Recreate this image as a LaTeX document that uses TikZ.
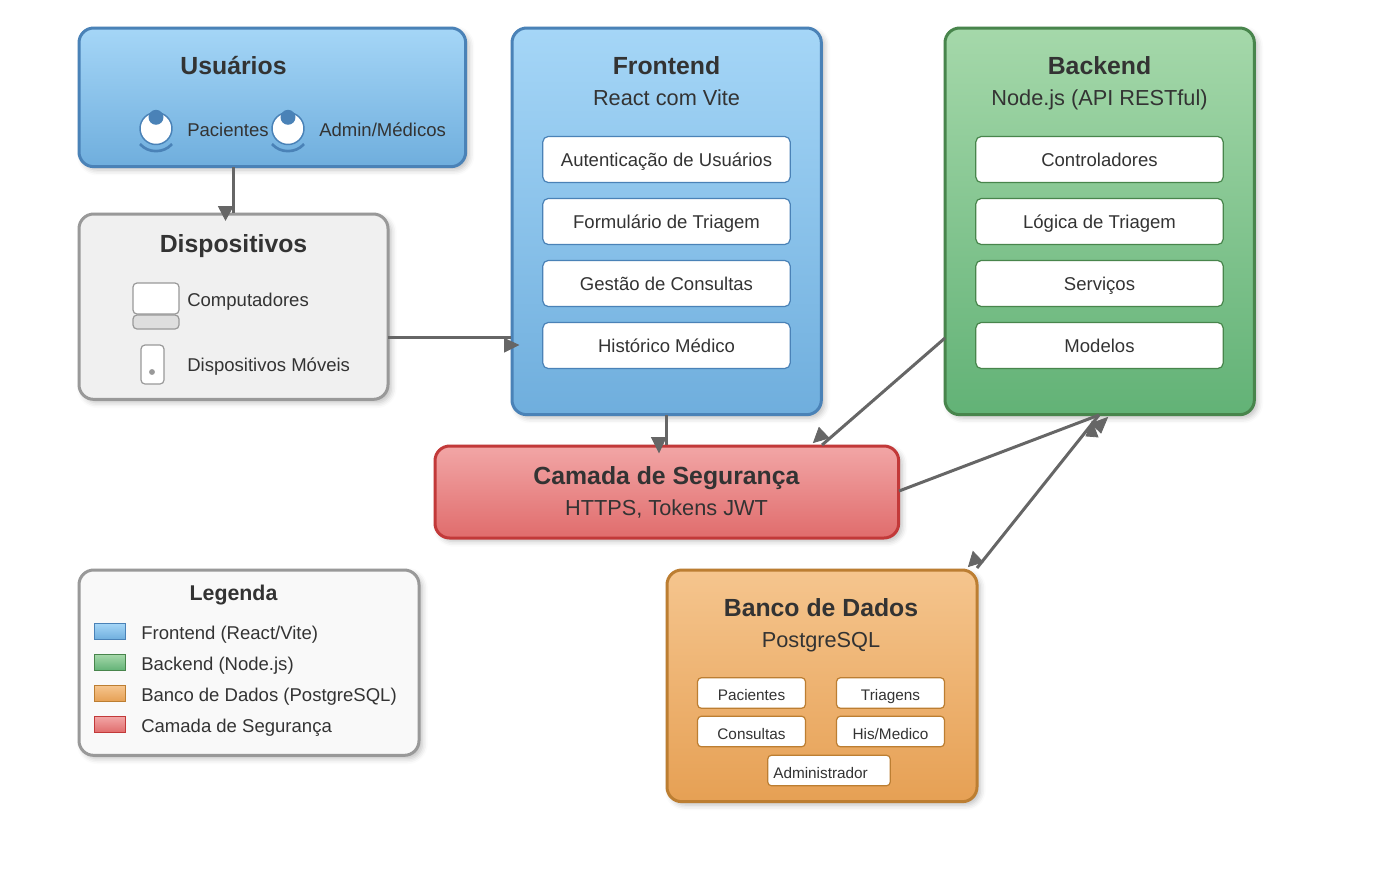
\documentclass[tikz,border=0pt]{standalone}
\usepackage{xcolor}
\usepackage{fontspec}
\setmainfont{Liberation Sans}
\usepackage{tikz}
\usetikzlibrary{arrows.meta,positioning,shadows.blur}
\definecolor{textdark}{RGB}{51,51,51}
\definecolor{linegray}{RGB}{102,102,102}
\definecolor{blueedge}{RGB}{74,130,183}
\definecolor{bluetop}{RGB}{165,214,247}
\definecolor{bluebot}{RGB}{111,174,221}
\definecolor{greenedge}{RGB}{72,133,76}
\definecolor{greentop}{RGB}{165,216,170}
\definecolor{greenbot}{RGB}{98,178,118}
\definecolor{orangeedge}{RGB}{188,126,50}
\definecolor{orangetop}{RGB}{245,197,142}
\definecolor{orangebot}{RGB}{230,160,84}
\definecolor{rededge}{RGB}{194,57,57}
\definecolor{redtop}{RGB}{242,166,166}
\definecolor{redbot}{RGB}{224,108,108}
\definecolor{grayedge}{RGB}{153,153,153}
\definecolor{grayfill}{RGB}{240,240,240}

\begin{document}
\begin{tikzpicture}[
  x=0.75pt, y=-0.75pt,
  panel/.style={rectangle, rounded corners=11pt, line width=2.25pt, anchor=north west, inner sep=0pt, outer sep=0pt,
    blur shadow={shadow xshift=2.5pt, shadow yshift=-2.5pt, shadow blur radius=4pt, shadow opacity=25}},
  bluepanel/.style={panel, draw=blueedge, top color=bluetop, bottom color=bluebot},
  greenpanel/.style={panel, draw=greenedge, top color=greentop, bottom color=greenbot},
  orangepanel/.style={panel, draw=orangeedge, top color=orangetop, bottom color=orangebot},
  redpanel/.style={panel, draw=rededge, top color=redtop, bottom color=redbot},
  graypanel/.style={panel, draw=grayedge, fill=grayfill},
  legendpanel/.style={panel, draw=grayedge, fill=black!2.5},
  boxtitle/.style={font=\fontsize{18.6pt}{20pt}\bfseries\selectfont, text=textdark, anchor=base, inner sep=0pt},
  boxsub/.style={font=\fontsize{16.3pt}{18pt}\selectfont, text=textdark, anchor=base, inner sep=0pt},
  boxlabel/.style={font=\fontsize{13.9pt}{16pt}\selectfont, text=textdark},
  boxsmall/.style={font=\fontsize{11.5pt}{13pt}\selectfont, text=textdark},
  sidelabel/.style={boxlabel, anchor=base west, inner sep=0pt},
  item/.style={rectangle, rounded corners=4pt, fill=white, line width=0.9pt, minimum width=185.5pt,
    minimum height=34.5pt, inner sep=0pt, outer sep=0pt, boxlabel, text height=13.5pt, text depth=3pt},
  dbitem/.style={rectangle, rounded corners=3pt, fill=white, draw=orangeedge, line width=0.9pt, minimum width=81pt,
    minimum height=23pt, inner sep=0pt, outer sep=0pt, boxsmall, text height=14.1pt, text depth=2.5pt},
  swatch/.style={rectangle, line width=1.1pt, minimum width=23.5pt, minimum height=12pt, inner sep=0pt, outer sep=0pt},
  conn/.style={draw=linegray, line width=2.25pt},
  tiphead/.style={fill=linegray, draw=linegray, line width=0.6pt},
  person/.style={circle, draw=blueedge, fill=white, line width=1.1pt, minimum size=24pt, inner sep=0pt, outer sep=0pt}
]
\useasboundingbox (0,0) rectangle (1385,869);

% panels
\node[bluepanel, minimum width=290pt, minimum height=104pt] (usuarios) at (79,28) {};
\node[graypanel, minimum width=231.75pt, minimum height=139pt] (dispositivos) at (79,214) {};
\node[bluepanel, minimum width=232pt, minimum height=290pt] (frontend) at (512,28) {};
\node[greenpanel, minimum width=232pt, minimum height=290pt] (backend) at (945,28) {};
\node[redpanel, minimum width=347.75pt, minimum height=69pt] (seguranca) at (435,446) {};
\node[orangepanel, minimum width=232.5pt, minimum height=173.75pt] (banco) at (667,570) {};
\node[legendpanel, minimum width=255pt, minimum height=139pt] (legenda) at (79,570) {};

% connectors
\coordinate (usuariosout) at (233,167);
\coordinate (dispin) at (233,213);
\coordinate (dispout) at (388,337);
\coordinate (frontin) at (511,337);
\coordinate (frontout) at (666,415);
\coordinate (segin) at (666,445);
\coordinate (backout) at (945,338);
\coordinate (segtop) at (822,445);
\coordinate (segout) at (899,491);
\coordinate (backin) at (1099,415);
\coordinate (bancoout) at (977,568);
\draw[conn] (usuariosout) -- (dispin);
\draw[conn] (dispout) -- (frontin);
\draw[conn] (frontout) -- (segin);
\draw[conn] (backout) -- (segtop);
\draw[conn] (segout) -- (backin);
\draw[conn] (bancoout) -- (backin);
\draw[tiphead] (225.5,220) -- (218.5,206.5) -- (233,206.5) -- cycle;
\draw[tiphead] (518.5,345) -- (504.5,338.5) -- (504.5,352) -- cycle;
\draw[tiphead] (659,452.5) -- (651.5,437.5) -- (666,437.5) -- cycle;
\draw[tiphead] (813.5,442.5) -- (819,427.5) -- (829,438) -- cycle;
\draw[tiphead] (1107.5,417.5) -- (1101,433) -- (1091,423.5) -- cycle;
\draw[tiphead] (1092,421.5) -- (1086,436) -- (1098,437) -- cycle;
\draw[tiphead] (968.5,566.5) -- (973,551.5) -- (983,562) -- cycle;

% usuarios
\node[boxtitle] (usuariostitle) at (233.5,74) {Usuários};
\node[person] (paciente) at (156,128.5) {};
\fill[blueedge] (156,117.3) circle (5.6pt);
\draw[blueedge, line width=2pt] (140,144) .. controls (148,153.5) and (164,153.5) .. (172,144);
\node[sidelabel] (pacientes) at (187,136) {Pacientes};
\node[person] (admin) at (288,128.5) {};
\fill[blueedge] (288,117.3) circle (5.6pt);
\draw[blueedge, line width=2pt] (272,144) .. controls (280,153.5) and (296,153.5) .. (304,144);
\node[sidelabel] (medicos) at (319,136) {Admin/Médicos};

% dispositivos
\node[boxtitle] (disptitle) at (233.5,252) {Dispositivos};
\draw[grayedge, fill=white, rounded corners=3pt, line width=0.9pt] (133,283) rectangle (179,314);
\draw[grayedge, fill=black!13, rounded corners=3pt, line width=0.9pt] (133,315) rectangle (179,329);
\node[sidelabel] (computadores) at (187,306) {Computadores};
\draw[grayedge, fill=white, rounded corners=3pt, line width=0.9pt] (141,345) rectangle (164,384);
\fill[grayedge] (152,372) circle (2.2pt);
\node[sidelabel] (moveis) at (187,371) {Dispositivos Móveis};

% frontend
\node[boxtitle] (fronttitle) at (666.5,74) {Frontend};
\node[boxsub] (frontsub) at (666.5,105) {React com Vite};
\node[item, draw=blueedge] (auth) at (666.5,159.5) {Autenticação de Usuários};
\node[item, draw=blueedge] (form) at (666.5,221.5) {Formulário de Triagem};
\node[item, draw=blueedge] (gestao) at (666.5,283.5) {Gestão de Consultas};
\node[item, draw=blueedge] (historico) at (666.5,345.5) {Histórico Médico};

% backend
\node[boxtitle] (backtitle) at (1099.5,74) {Backend};
\node[boxsub] (backsub) at (1099.5,105) {Node.js (API RESTful)};
\node[item, draw=greenedge] (control) at (1099.5,159.5) {Controladores};
\node[item, draw=greenedge] (logica) at (1099.5,221.5) {Lógica de Triagem};
\node[item, draw=greenedge] (servicos) at (1099.5,283.5) {Serviços};
\node[item, draw=greenedge] (modelos) at (1099.5,345.5) {Modelos};

% seguranca
\node[boxtitle] (segtitle) at (666.5,484) {Camada de Segurança};
\node[boxsub] (segsub) at (666.5,515) {HTTPS, Tokens JWT};

% banco
\node[boxtitle] (bancotitle) at (821,616) {Banco de Dados};
\node[boxsub] (bancosub) at (821,647) {PostgreSQL};
\node[dbitem] (tabpac) at (751.5,693) {Pacientes};
\node[dbitem] (tabtri) at (890.5,693) {Triagens};
\node[dbitem] (tabcon) at (751.5,731.5) {Consultas};
\node[dbitem] (tabhis) at (890.5,731.5) {His/Medico};
\node[dbitem, minimum width=92pt] (tabadm) at (829,770.5) {};
\node[boxsmall, anchor=base west, inner sep=0pt] (tabadmtxt) at (773,778) {Administrador};

% legenda
\node[boxtitle, font=\fontsize{16pt}{18pt}\bfseries\selectfont] (legtitle) at (233.5,600) {Legenda};
\node[swatch, draw=blueedge, top color=bluetop, bottom color=bluebot] (swfront) at (110,631.5) {};
\node[swatch, draw=greenedge, top color=greentop, bottom color=greenbot] (swback) at (110,662.5) {};
\node[swatch, draw=orangeedge, top color=orangetop, bottom color=orangebot] (swbanco) at (110,693.5) {};
\node[swatch, draw=rededge, top color=redtop, bottom color=redbot] (swseg) at (110,724.5) {};
\node[sidelabel] (legfront) at (141,639) {Frontend (React/Vite)};
\node[sidelabel] (legback) at (141,670) {Backend (Node.js)};
\node[sidelabel] (legbanco) at (141,701) {Banco de Dados (PostgreSQL)};
\node[sidelabel] (legseg) at (141,732) {Camada de Segurança};
\end{tikzpicture}
\end{document}
